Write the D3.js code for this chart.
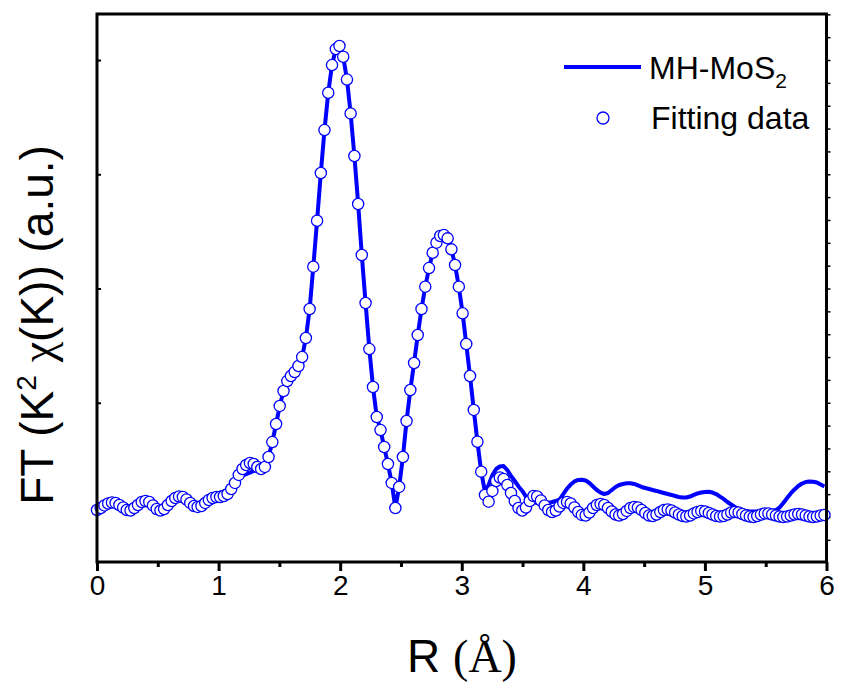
<!DOCTYPE html>
<html>
<head>
  <meta charset="utf-8">
  <title>FT of MH-MoS2 with fitting</title>
  <script src="https://d3js.org/d3.v7.min.js"></script>
  <style>
    body { margin: 0; background: #fff; }
  </style>
</head>
<body>
  <div id="chart"></div>

  <script>
    // R grid (Å)
    const rValues = [
      0.000,0.031,0.061,0.092,0.123,0.153,0.184,0.215,0.245,0.276,
      0.307,0.337,0.368,0.399,0.430,0.460,0.491,0.522,0.552,0.583,
      0.614,0.644,0.675,0.706,0.736,0.767,0.798,0.828,0.859,0.890,
      0.920,0.951,0.982,1.012,1.043,1.074,1.104,1.135,1.166,1.197,
      1.227,1.258,1.289,1.319,1.350,1.381,1.411,1.442,1.473,1.503,
      1.534,1.565,1.595,1.626,1.657,1.687,1.718,1.749,1.779,1.810,
      1.841,1.871,1.902,1.933,1.964,1.994,2.025,2.056,2.086,2.117,
      2.148,2.178,2.209,2.240,2.270,2.301,2.332,2.362,2.393,2.424,
      2.454,2.485,2.516,2.546,2.577,2.608,2.638,2.669,2.700,2.731,
      2.761,2.792,2.823,2.853,2.884,2.915,2.945,2.976,3.007,3.037,
      3.068,3.099,3.129,3.160,3.191,3.221,3.252,3.283,3.313,3.344,
      3.375,3.405,3.436,3.467,3.498,3.528,3.559,3.590,3.620,3.651,
      3.682,3.712,3.743,3.774,3.804,3.835,3.866,3.896,3.927,3.958,
      3.988,4.019,4.050,4.080,4.111,4.142,4.172,4.203,4.234,4.265,
      4.295,4.326,4.357,4.387,4.418,4.449,4.479,4.510,4.541,4.571,
      4.602,4.633,4.663,4.694,4.725,4.755,4.786,4.817,4.847,4.878,
      4.909,4.939,4.970,5.001,5.032,5.062,5.093,5.124,5.154,5.185,
      5.216,5.246,5.277,5.308,5.338,5.369,5.400,5.430,5.461,5.492,
      5.522,5.553,5.584,5.614,5.645,5.676,5.706,5.737,5.768,5.799,
      5.829,5.860,5.891,5.921,5.952,5.983
    ];

    // MH-MoS2 curve (a.u.)
    const mhValues = [
      0.061,0.079,0.101,0.118,0.127,0.123,0.105,0.083,0.061,0.057,
      0.079,0.105,0.131,0.140,0.131,0.101,0.070,0.057,0.070,0.105,
      0.140,0.166,0.179,0.175,0.153,0.123,0.096,0.088,0.096,0.123,
      0.166,0.184,0.201,0.214,0.223,0.236,0.263,0.298,0.333,0.359,
      0.376,0.389,0.403,0.416,0.429,0.455,0.525,0.656,0.814,0.972,
      1.103,1.190,1.234,1.269,1.322,1.400,1.567,1.821,2.191,2.593,
      3.011,3.387,3.714,3.956,4.096,4.123,4.029,3.829,3.533,3.160,
      2.740,2.293,1.873,1.470,1.138,0.875,0.761,0.613,0.464,0.298,
      0.079,0.263,0.525,0.840,1.112,1.348,1.593,1.821,2.016,2.179,
      2.313,2.401,2.460,2.468,2.439,2.343,2.206,2.016,1.783,1.514,
      1.234,0.937,0.659,0.397,0.219,0.280,0.368,0.420,0.442,0.446,
      0.411,0.359,0.315,0.267,0.228,0.179,0.149,0.131,0.123,0.118,
      0.118,0.123,0.131,0.140,0.153,0.201,0.249,0.284,0.311,0.324,
      0.326,0.319,0.298,0.267,0.236,0.214,0.201,0.210,0.236,0.263,
      0.280,0.289,0.295,0.295,0.289,0.276,0.263,0.254,0.245,0.236,
      0.228,0.219,0.210,0.201,0.193,0.184,0.175,0.171,0.171,0.179,
      0.193,0.206,0.214,0.219,0.221,0.214,0.201,0.179,0.158,0.131,
      0.109,0.088,0.070,0.057,0.053,0.048,0.048,0.048,0.048,0.048,
      0.048,0.053,0.061,0.083,0.123,0.166,0.206,0.241,0.271,0.293,
      0.306,0.311,0.309,0.302,0.284,0.267
    ];

    // Fitting data (a.u.)
    const fitValues = [
      0.061,0.079,0.101,0.118,0.127,0.123,0.105,0.083,0.061,0.057,
      0.079,0.105,0.131,0.140,0.131,0.101,0.070,0.057,0.070,0.105,
      0.140,0.166,0.179,0.175,0.153,0.123,0.096,0.088,0.096,0.123,
      0.149,0.166,0.175,0.175,0.184,0.201,0.245,0.298,0.368,0.420,
      0.455,0.473,0.464,0.438,0.420,0.438,0.525,0.656,0.814,0.972,
      1.103,1.190,1.234,1.269,1.322,1.400,1.567,1.821,2.191,2.593,
      3.011,3.387,3.714,3.956,4.096,4.123,4.029,3.829,3.533,3.160,
      2.740,2.293,1.873,1.470,1.138,0.875,0.761,0.613,0.464,0.298,
      0.079,0.263,0.525,0.840,1.112,1.348,1.593,1.821,2.016,2.179,
      2.313,2.401,2.460,2.468,2.439,2.343,2.206,2.016,1.783,1.514,
      1.234,0.937,0.659,0.397,0.193,0.134,0.228,0.315,0.346,0.333,
      0.280,0.210,0.140,0.079,0.057,0.083,0.140,0.184,0.179,0.144,
      0.101,0.061,0.044,0.057,0.092,0.123,0.131,0.118,0.083,0.044,
      0.018,0.013,0.039,0.079,0.105,0.114,0.105,0.079,0.048,0.022,
      0.013,0.026,0.053,0.079,0.088,0.083,0.061,0.035,0.013,0.009,
      0.022,0.044,0.061,0.066,0.057,0.039,0.022,0.009,0.004,0.013,
      0.031,0.044,0.053,0.048,0.035,0.022,0.009,0.004,0.009,0.022,
      0.039,0.044,0.039,0.026,0.013,0.004,0.000,0.009,0.022,0.031,
      0.031,0.022,0.013,0.004,0.000,0.004,0.013,0.022,0.026,0.022,
      0.013,0.004,0.000,0.004,0.013,0.018
    ];

    const xTicks = [0, 1, 2, 3, 4, 5, 6];
    const xMinorTicks = [0.5, 1.5, 2.5, 3.5, 4.5, 5.5];
    const yMajorTicks = [1, 2, 3, 4];

    const width = 841;
    const height = 686;
    const plotLeft = 97, plotRight = 826.5, plotTop = 14, plotBottom = 562;
    const blue = "#0000ff";

    const svg = d3.select("#chart")
      .append("svg")
      .attr("width", width)
      .attr("height", height);

    const x = d3.scaleLinear().domain([0, 6]).range([plotLeft, plotRight]);
    const y = d3.scaleLinear().domain([-0.394, 4.403]).range([plotBottom, plotTop]);

    const lineData = rValues.map((r, i) => ({ r: r, v: mhValues[i] }));
    const fitData = rValues.map((r, i) => ({ r: r, v: fitValues[i] }));

    svg.append("clipPath").attr("id", "plot")
      .append("rect")
      .attr("x", plotLeft).attr("y", plotTop)
      .attr("width", plotRight - plotLeft).attr("height", plotBottom - plotTop);

    // bottom axis
    const xAxis = svg.append("g")
      .attr("transform", `translate(0,${plotBottom})`)
      .call(d3.axisBottom(x).tickValues(xTicks).tickSize(9).tickPadding(4)
        .tickFormat(d3.format("d")));
    xAxis.select(".domain").remove();
    xAxis.selectAll("line").attr("stroke", "#000").attr("stroke-width", 3);
    xAxis.selectAll("text")
      .attr("font-family", "Liberation Sans, Arial, sans-serif")
      .attr("font-size", 28)
      .attr("fill", "#000");

    svg.append("g")
      .attr("transform", `translate(0,${plotBottom})`)
      .call(d3.axisBottom(x).tickValues(xMinorTicks).tickSize(5).tickFormat(""))
      .call(g => g.select(".domain").remove())
      .selectAll("line").attr("stroke", "#000").attr("stroke-width", 3);

    // left axis ticks (inward, no labels)
    svg.append("g")
      .attr("transform", `translate(${plotLeft},0)`)
      .call(d3.axisRight(y).tickValues(yMajorTicks).tickSize(4).tickFormat(""))
      .call(g => g.select(".domain").remove())
      .selectAll("line").attr("stroke", "#000").attr("stroke-width", 2);

    // right axis minor ticks
    svg.append("g")
      .attr("transform", `translate(${plotRight},0)`)
      .call(d3.axisRight(y).tickValues(d3.range(-0.2, 4.41, 0.2)).tickSize(4).tickFormat(""))
      .call(g => g.select(".domain").remove())
      .selectAll("line").attr("stroke", "#000").attr("stroke-width", 1.5);

    // curve
    const line = d3.line()
      .x(d => x(d.r))
      .y(d => y(d.v));

    svg.append("path")
      .datum(lineData)
      .attr("clip-path", "url(#plot)")
      .attr("fill", "none")
      .attr("stroke", blue)
      .attr("stroke-width", 4)
      .attr("stroke-linejoin", "round")
      .attr("d", line);

    // fitting points
    svg.append("g")
      .selectAll("circle")
      .data(fitData)
      .join("circle")
      .attr("cx", d => x(d.r))
      .attr("cy", d => y(d.v))
      .attr("r", 5.6)
      .attr("fill", "#fff")
      .attr("stroke", blue)
      .attr("stroke-width", 1.3);

    // frame
    svg.append("rect")
      .attr("x", plotLeft).attr("y", plotTop)
      .attr("width", plotRight - plotLeft).attr("height", plotBottom - plotTop)
      .attr("fill", "none")
      .attr("stroke", "#000")
      .attr("stroke-width", 3);

    // legend
    const legend = svg.append("g");
    legend.append("line")
      .attr("x1", 564).attr("x2", 641)
      .attr("y1", 67).attr("y2", 67)
      .attr("stroke", blue).attr("stroke-width", 4);
    const lt = legend.append("text")
      .attr("x", 649).attr("y", 79)
      .attr("font-family", "Liberation Sans, Arial, sans-serif")
      .attr("font-size", 32);
    lt.append("tspan").text("MH-MoS");
    lt.append("tspan").attr("dy", 9).attr("font-size", 21).text("2");

    legend.append("circle")
      .attr("cx", 603).attr("cy", 118).attr("r", 6)
      .attr("fill", "#fff").attr("stroke", blue).attr("stroke-width", 1.3);
    legend.append("text")
      .attr("x", 651).attr("y", 129)
      .attr("font-family", "Liberation Sans, Arial, sans-serif")
      .attr("font-size", 32)
      .text("Fitting data");

    // axis titles
    const xt = svg.append("text")
      .attr("x", 462).attr("y", 672)
      .attr("text-anchor", "middle")
      .attr("font-size", 46);
    xt.append("tspan").attr("font-family", "Liberation Sans, Arial, sans-serif").text("R ");
    xt.append("tspan").attr("font-family", "Liberation Serif, Times New Roman, serif").text("(Å)");

    const yt = svg.append("text")
      .attr("transform", "translate(53,325) rotate(-90)")
      .attr("text-anchor", "middle")
      .attr("font-family", "Liberation Sans, Arial, sans-serif")
      .attr("font-size", 46);
    yt.append("tspan").text("FT (K");
    yt.append("tspan").attr("dy", -17).attr("font-size", 28).text("2");
    yt.append("tspan").attr("dy", 17).text(" ");
    yt.append("tspan").attr("font-family", "Liberation Serif, Times New Roman, serif").text("χ");
    yt.append("tspan").text("(K)) (a.u.)");
  </script>
</body>
</html>
